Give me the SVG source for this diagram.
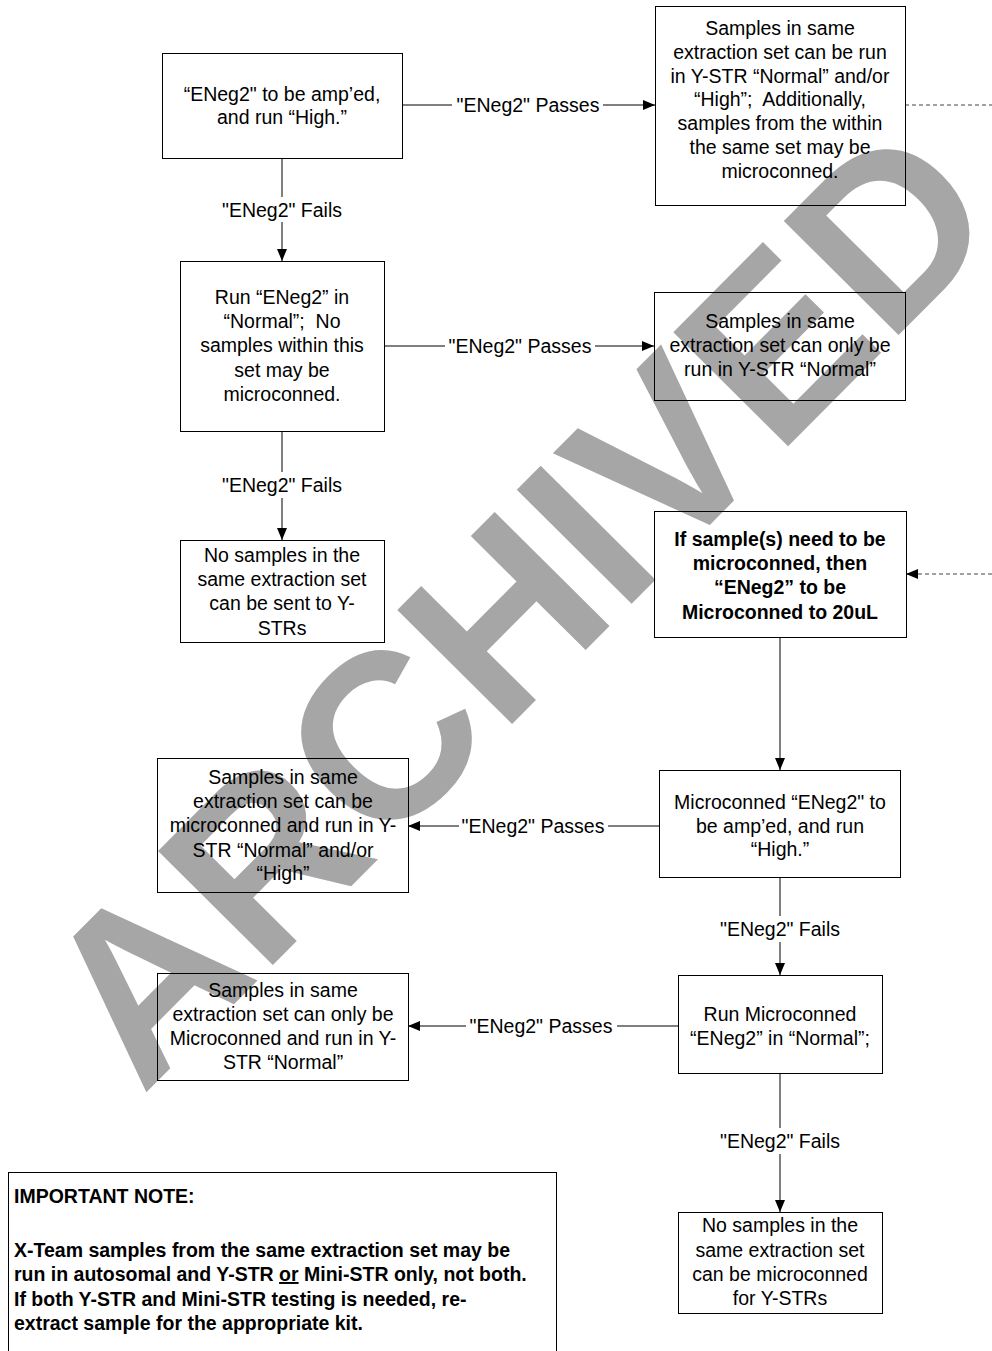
<svg xmlns="http://www.w3.org/2000/svg" width="992" height="1351" viewBox="0 0 992 1351">
<defs>
<marker id="ah" viewBox="0 0 12 10" refX="12" refY="5" markerWidth="12" markerHeight="10" markerUnits="userSpaceOnUse" orient="auto">
<path d="M0,0 L12,5 L0,10 Z" fill="#000"/>
</marker>
</defs>
<style>
.bx{fill:none;stroke:#000;stroke-width:1}
.t{font-family:"Liberation Sans",Arial,sans-serif;font-size:19.5px;fill:#000;text-anchor:middle}
.b{font-weight:bold}
.ln{stroke:#000;stroke-width:1;fill:none}
.dl{stroke:#444;stroke-width:1;fill:none;stroke-dasharray:4 3}
.wm{font-family:"Liberation Sans",Arial,sans-serif;font-weight:bold;font-size:235px;fill:#a6a6a6;text-anchor:middle}
.nt{font-family:"Liberation Sans",Arial,sans-serif;font-size:19.5px;font-weight:bold;fill:#000}
</style>
<rect width="992" height="1351" fill="#fff"/>
<text class="wm" transform="translate(515,602) rotate(-45.2)" x="0" y="84">ARCHIVED</text>

<g id="connectors">
<path class="ln" d="M402,105 H452"/><path class="ln" d="M603,105 H655" marker-end="url(#ah)"/>
<text class="t" x="528" y="112">"ENeg2" Passes</text>
<path class="dl" d="M905,105 H992"/>
<path class="ln" d="M282,158 V197"/><path class="ln" d="M282,222 V261" marker-end="url(#ah)"/>
<text class="t" x="282" y="217">"ENeg2" Fails</text>
<path class="ln" d="M384,346 H445"/><path class="ln" d="M595,346 H654" marker-end="url(#ah)"/>
<text class="t" x="520" y="353">"ENeg2" Passes</text>
<path class="ln" d="M282,431 V472"/><path class="ln" d="M282,498 V540" marker-end="url(#ah)"/>
<text class="t" x="282" y="492">"ENeg2" Fails</text>
<path class="dl" d="M992,574 H918"/><path class="ln" d="M918,574 H906" marker-end="url(#ah)"/>
<path class="ln" d="M780,637 V770" marker-end="url(#ah)"/>
<path class="ln" d="M659,826 H608"/><path class="ln" d="M459,826 H408" marker-end="url(#ah)"/>
<text class="t" x="533" y="833">"ENeg2" Passes</text>
<path class="ln" d="M780,877 V916"/><path class="ln" d="M780,942 V975" marker-end="url(#ah)"/>
<text class="t" x="780" y="936">"ENeg2" Fails</text>
<path class="ln" d="M678,1026 H617"/><path class="ln" d="M466,1026 H408" marker-end="url(#ah)"/>
<text class="t" x="541" y="1033">"ENeg2" Passes</text>
<path class="ln" d="M780,1073 V1128"/><path class="ln" d="M780,1154 V1212" marker-end="url(#ah)"/>
<text class="t" x="780" y="1148">"ENeg2" Fails</text>
</g>

<g id="n1">
<rect class="bx" x="162.5" y="53.5" width="240" height="105"/>
<text class="t" x="282" y="101">“ENeg2" to be amp’ed,</text>
<text class="t" x="282" y="124">and run “High.”</text>
</g>
<g id="n2">
<rect class="bx" x="655.5" y="6.5" width="250" height="199"/>
<text class="t" x="780" y="35">Samples in same</text>
<text class="t" x="780" y="59">extraction set can be run</text>
<text class="t" x="780" y="83">in Y-STR “Normal” and/or</text>
<text class="t" x="780" y="106">“High”;&#160; Additionally,</text>
<text class="t" x="780" y="130">samples from the within</text>
<text class="t" x="780" y="154">the same set may be</text>
<text class="t" x="780" y="178">microconned.</text>
</g>
<g id="n3">
<rect class="bx" x="180.5" y="261.5" width="204" height="170"/>
<text class="t" x="282" y="304">Run “ENeg2” in</text>
<text class="t" x="282" y="328">“Normal”;&#160; No</text>
<text class="t" x="282" y="352">samples within this</text>
<text class="t" x="282" y="377">set may be</text>
<text class="t" x="282" y="401">microconned.</text>
</g>
<g id="n4">
<rect class="bx" x="654.5" y="292.5" width="251" height="108"/>
<text class="t" x="780" y="328">Samples in same</text>
<text class="t" x="780" y="352">extraction set can only be</text>
<text class="t" x="780" y="376">run in Y-STR “Normal”</text>
</g>
<g id="n5">
<rect class="bx" x="180.5" y="540.5" width="204" height="102"/>
<text class="t" x="282" y="562">No samples in the</text>
<text class="t" x="282" y="586">same extraction set</text>
<text class="t" x="282" y="610">can be sent to Y-</text>
<text class="t" x="282" y="635">STRs</text>
</g>
<g id="n6">
<rect class="bx" x="654.5" y="511.5" width="252" height="126"/>
<text class="t b" x="780" y="546">If sample(s) need to be</text>
<text class="t b" x="780" y="570">microconned, then</text>
<text class="t b" x="780" y="594">“ENeg2” to be</text>
<text class="t b" x="780" y="619">Microconned to 20uL</text>
</g>
<g id="n7">
<rect class="bx" x="659.5" y="770.5" width="241" height="107"/>
<text class="t" x="780" y="809">Microconned “ENeg2" to</text>
<text class="t" x="780" y="833">be amp’ed, and run</text>
<text class="t" x="780" y="856">“High.”</text>
</g>
<g id="n8">
<rect class="bx" x="157.5" y="758.5" width="251" height="134"/>
<text class="t" x="283" y="784">Samples in same</text>
<text class="t" x="283" y="808">extraction set can be</text>
<text class="t" x="283" y="832">microconned and run in Y-</text>
<text class="t" x="283" y="857">STR “Normal” and/or</text>
<text class="t" x="283" y="880">“High”</text>
</g>
<g id="n9">
<rect class="bx" x="678.5" y="975.5" width="204" height="98"/>
<text class="t" x="780" y="1021">Run Microconned</text>
<text class="t" x="780" y="1045">“ENeg2” in “Normal”;</text>
</g>
<g id="n10">
<rect class="bx" x="157.5" y="973.5" width="251" height="107"/>
<text class="t" x="283" y="997">Samples in same</text>
<text class="t" x="283" y="1021">extraction set can only be</text>
<text class="t" x="283" y="1045">Microconned and run in Y-</text>
<text class="t" x="283" y="1069">STR “Normal”</text>
</g>
<g id="n11">
<rect class="bx" x="678.5" y="1212.5" width="204" height="101"/>
<text class="t" x="780" y="1232">No samples in the</text>
<text class="t" x="780" y="1257">same extraction set</text>
<text class="t" x="780" y="1281">can be microconned</text>
<text class="t" x="780" y="1305">for Y-STRs</text>
</g>
<g id="note">
<rect class="bx" x="8.5" y="1172.5" width="548" height="200"/>
<text class="nt" x="14" y="1203">IMPORTANT NOTE:</text>
<text class="nt" x="14" y="1257">X-Team samples from the same extraction set may be</text>
<text class="nt" x="14" y="1281">run in autosomal and Y-STR <tspan text-decoration="underline">or</tspan> Mini-STR only, not both.</text>
<text class="nt" x="14" y="1306">If both Y-STR and Mini-STR testing is needed, re-</text>
<text class="nt" x="14" y="1330">extract sample for the appropriate kit.</text>
</g>
</svg>
